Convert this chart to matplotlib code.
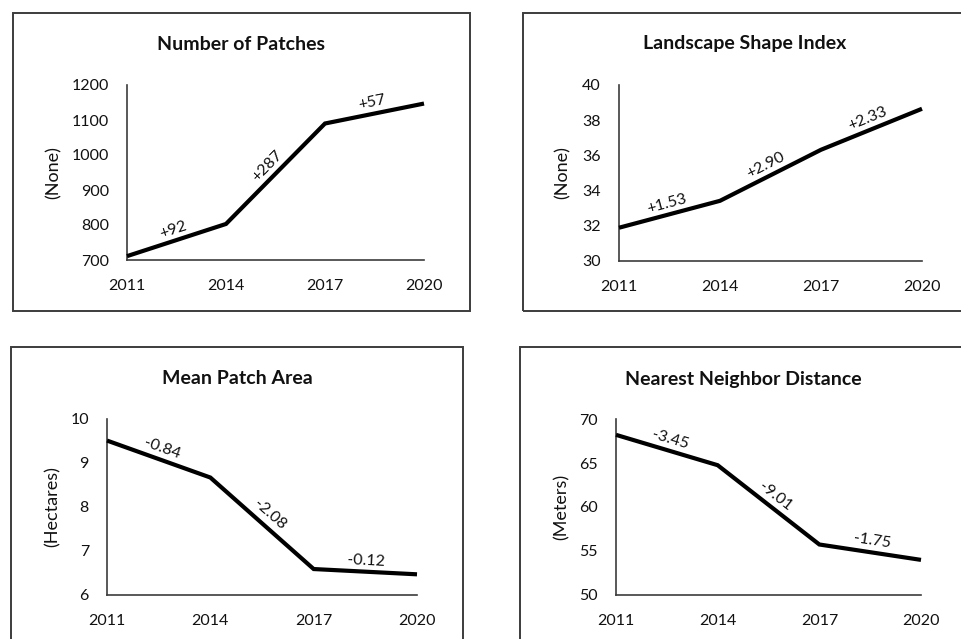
import numpy as np
import matplotlib
matplotlib.use("Agg")
import matplotlib.pyplot as plt
from matplotlib.patches import Rectangle

# ---------------- data ----------------
years = [2011, 2014, 2017, 2020]
year_labels = ["2011", "2014", "2017", "2020"]

patches_values = [711, 803, 1090, 1147]
patches_changes = ["+92", "+287", "+57"]
patches_ticks = [700, 800, 900, 1000, 1100, 1200]

lsi_values = [31.89, 33.42, 36.32, 38.65]
lsi_changes = ["+1.53", "+2.90", "+2.33"]
lsi_ticks = [30, 32, 34, 36, 38, 40]

mpa_values = [9.51, 8.67, 6.59, 6.47]
mpa_changes = ["-0.84", "-2.08", "-0.12"]
mpa_ticks = [6, 7, 8, 9, 10]

nnd_values = [68.20, 64.75, 55.74, 53.99]
nnd_changes = ["-3.45", "-9.01", "-1.75"]
nnd_ticks = [50, 55, 60, 65, 70]

titles = ["Number of Patches", "Landscape Shape Index",
          "Mean Patch Area", "Nearest Neighbor Distance"]
ylabels = ["(None)", "(None)", "(Hectares)", "(Meters)"]

# ---------------- layout ----------------
W, H = 961, 639
plt.rcParams["font.family"] = ["Lato", "DejaVu Sans"]
fig = plt.figure(figsize=(W / 100, H / 100), dpi=100)


def fx(x):
    return x / W


def fy(y):
    return 1 - y / H


def rect_px(l, t, r, b):
    return [fx(l), fy(b), fx(r) - fx(l), fy(t) - fy(b)]


panels = [
    dict(box=(13, 13, 470, 311), ax=(127, 85, 424, 260), title=(241, 44), ylab_dx=-73,
         vals=patches_values, chg=patches_changes, ticks=patches_ticks),
    dict(box=(523, 13, 975, 311), ax=(619, 85, 922, 261), title=(745, 44), ylab_dx=-56,
         vals=lsi_values, chg=lsi_changes, ticks=lsi_ticks),
    dict(box=(11, 347, 463, 660), ax=(107, 419, 417, 595), title=(237, 379), ylab_dx=-54,
         vals=mpa_values, chg=mpa_changes, ticks=mpa_ticks),
    dict(box=(520, 347, 975, 660), ax=(616, 419, 921, 595), title=(743, 379), ylab_dx=-54,
         vals=nnd_values, chg=nnd_changes, ticks=nnd_ticks),
]

edge = "#3c3c3c"
txt = "#111111"

for i, p in enumerate(panels):
    l, t, r, b = p["box"]
    fig.patches.append(Rectangle((fx(l), fy(b)), fx(r) - fx(l), fy(t) - fy(b),
                                 transform=fig.transFigure, fill=False,
                                 edgecolor=edge, linewidth=1.4, clip_on=False))
    fig.text(fx(p["title"][0]), fy(p["title"][1]), titles[i], ha="center", va="center",
             fontsize=14, fontweight="bold", color=txt)

    al, at, ar, ab = p["ax"]
    ax = fig.add_axes(rect_px(al, at, ar, ab))
    ax.plot(years, p["vals"], color="black", linewidth=3, solid_joinstyle="miter",
            solid_capstyle="butt", clip_on=False, zorder=3)
    ax.set_xlim(years[0], years[-1])
    ax.set_ylim(p["ticks"][0], p["ticks"][-1])
    ax.set_xticks(years)
    ax.set_xticklabels(year_labels)
    ax.set_yticks(p["ticks"])
    ax.set_yticklabels([str(v) for v in p["ticks"]])
    ax.tick_params(axis="both", length=0, labelsize=11.5, colors=txt)
    ax.tick_params(axis="y", pad=13)
    ax.tick_params(axis="x", pad=14)
    for s in ["top", "right"]:
        ax.spines[s].set_visible(False)
    for s in ["left", "bottom"]:
        ax.spines[s].set_color(edge)
        ax.spines[s].set_linewidth(1.2)
    ax.patch.set_alpha(0)

    ax.set_ylabel(ylabels[i], fontsize=13, color=txt)
    ax.yaxis.set_label_coords(p["ylab_dx"] / (ar - al), 0.5)
    ax.yaxis.label.set_verticalalignment("center")

    # change annotations along each segment
    for k in range(3):
        x0, x1 = years[k], years[k + 1]
        y0, y1 = p["vals"][k], p["vals"][k + 1]
        d0 = ax.transData.transform((x0, y0))
        d1 = ax.transData.transform((x1, y1))
        ang = np.arctan2(d1[1] - d0[1], d1[0] - d0[0])
        tpos = 0.5
        xm = x0 + tpos * (x1 - x0)
        ym = y0 + tpos * (y1 - y0)
        dist = 8
        ox, oy = -np.sin(ang) * dist, np.cos(ang) * dist
        ax.annotate(p["chg"][k], xy=(xm, ym), xytext=(ox, oy), textcoords="offset points",
                    rotation=np.degrees(ang), rotation_mode="anchor",
                    ha="center", va="center", fontsize=11.5, color=txt)

fig.savefig("out.png", dpi=100)
